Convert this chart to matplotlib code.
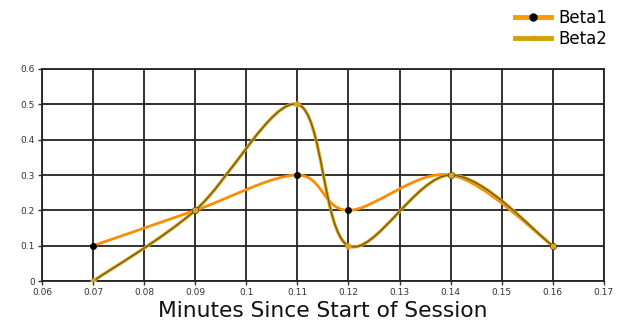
import matplotlib
matplotlib.use("Agg")
import matplotlib.pyplot as plt
import numpy as np
from matplotlib.path import Path
from matplotlib.patches import PathPatch
from matplotlib.lines import Line2D

minutes = [0.07, 0.09, 0.11, 0.12, 0.14, 0.16]
beta1 = [0.1, 0.2, 0.3, 0.2, 0.3, 0.1]
beta2 = [0.0, 0.2, 0.5, 0.1, 0.3, 0.1]

x_ticks = [0.06, 0.07, 0.08, 0.09, 0.1, 0.11, 0.12, 0.13, 0.14, 0.15, 0.16, 0.17]
y_ticks = [0, 0.1, 0.2, 0.3, 0.4, 0.5, 0.6]


def spline_path(xs, ys, tension=0.5):
    # cardinal spline through the data points
    p = np.column_stack([xs, ys]).astype(float)
    n = len(p)
    tang = np.zeros_like(p)
    for i in range(n):
        a = p[max(i - 1, 0)]
        b = p[min(i + 1, n - 1)]
        tang[i] = (b - a) * tension / 3.0
    verts = [p[0]]
    codes = [Path.MOVETO]
    for i in range(n - 1):
        verts += [p[i] + tang[i], p[i + 1] - tang[i + 1], p[i + 1]]
        codes += [Path.CURVE4] * 3
    return Path(verts, codes)


fig = plt.figure(figsize=(6.25, 3.22), dpi=100)
ax = fig.add_axes([0.0672, 0.127, 0.899, 0.659])

ax.set_xlim(0.06, 0.17)
ax.set_ylim(0, 0.6)
ax.set_xticks(x_ticks)
ax.set_xticklabels([f"{v:g}" for v in x_ticks])
ax.set_yticks(y_ticks)
ax.set_yticklabels([f"{v:g}" for v in y_ticks])
ax.tick_params(labelsize=6.5, colors="#333333", length=3, width=1, pad=2)
ax.grid(True, color="#222222", linewidth=1.3)
ax.set_axisbelow(True)
for s in ax.spines.values():
    s.set_color("#222222")
    s.set_linewidth(1.3)

ax.add_patch(PathPatch(spline_path(minutes, beta1), fill=False,
                       edgecolor="#ff8c00", linewidth=2, zorder=3))
ax.add_patch(PathPatch(spline_path(minutes, beta2), fill=False,
                       edgecolor="#daa520", linewidth=2.4, zorder=3))
ax.add_patch(PathPatch(spline_path(minutes, beta2), fill=False,
                       edgecolor="#6b5a10", linewidth=0.9, zorder=3))
ax.plot(minutes, beta1, "o", color="black", markersize=4, zorder=4)
ax.plot(minutes, beta2, "o", color="#daa520", markersize=3.5, zorder=4)

ax.set_xlabel("Minutes Since Start of Session", fontsize=15.7, color="#111111", labelpad=3)

handles = [
    Line2D([], [], color="#ff9900", linewidth=3.5, marker="o",
           markerfacecolor="black", markeredgecolor="black", markersize=5),
    Line2D([], [], color="#d4a00a", linewidth=3.5, marker="o",
           markerfacecolor="#d4a00a", markeredgecolor="#d4a00a", markersize=3),
]
fig.legend(handles, ["Beta1", "Beta2"], loc="upper right",
           bbox_to_anchor=(0.995, 1.02), frameon=False, fontsize=12,
           handlelength=2.2, labelspacing=0.2, handletextpad=0.4)

fig.savefig("out.png", dpi=100)
